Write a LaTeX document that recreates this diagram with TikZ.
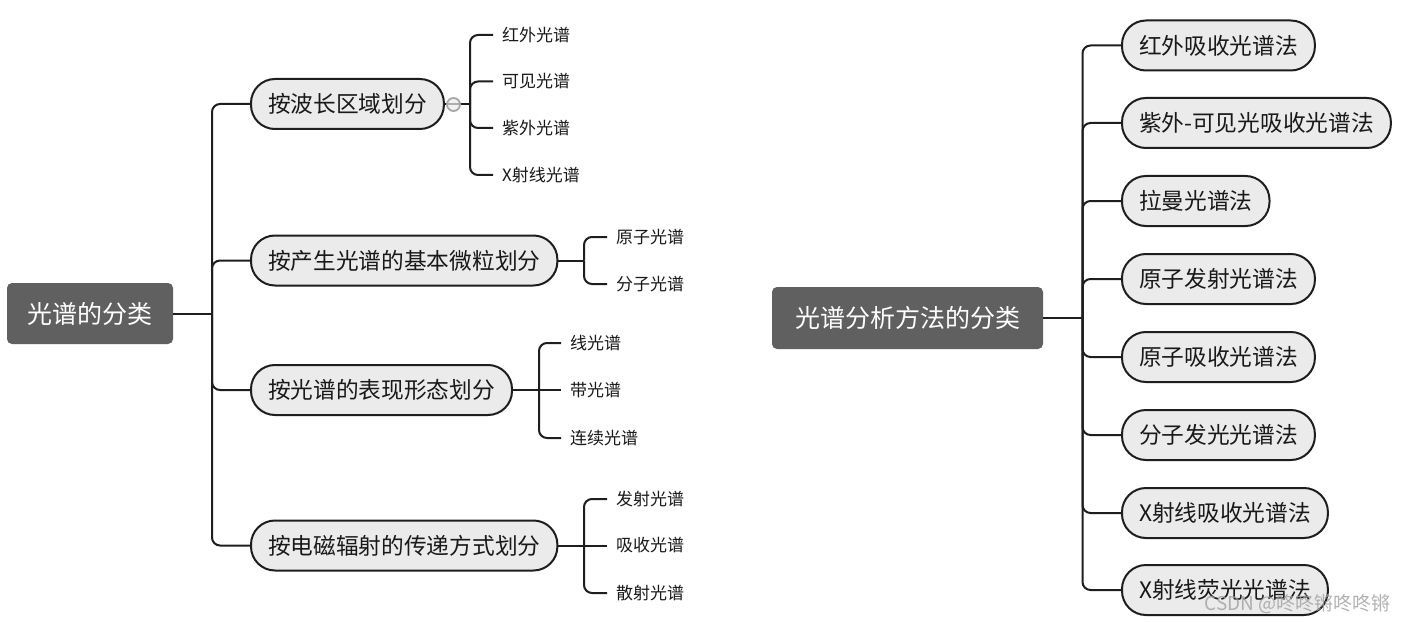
\documentclass[tikz,border=0pt]{standalone}
\usepackage{fontspec}
\newfontfamily\cjk{Noto Sans CJK SC}
\definecolor{rootgray}{HTML}{606060}
\definecolor{pillgray}{HTML}{EBEBEB}
\definecolor{linecol}{HTML}{1E1E1E}
\begin{document}
\begin{tikzpicture}[x=1pt,y=-1pt,
  conn/.style={line width=2pt,draw=linecol,rounded corners=8pt},
  rootbox/.style={fill=rootgray,draw=none,rounded corners=5pt,text=white,font=\cjk\fontsize{25}{30}\selectfont,inner sep=0pt},
  pill/.style={draw=linecol,line width=2pt,fill=pillgray,rounded corners=24pt,minimum height=50pt,inner xsep=17pt,inner ysep=0pt,font=\cjk\fontsize{22.7}{27}\selectfont,anchor=west,text=black!90},
  leaf/.style={font=\cjk\fontsize{17}{20}\selectfont,inner xsep=9pt,inner ysep=0pt,anchor=west,text=black!90},
  knob/.style={circle,draw=gray!70,line width=1.8pt,fill=gray!15,fill opacity=0.7,minimum size=13pt,inner sep=0pt},
  wmark/.style={font=\cjk\fontsize{19}{22}\selectfont,text=gray!75,text opacity=0.8,anchor=east,inner sep=0pt}
]
\fill[white] (0,0) rectangle (1406,623);
\useasboundingbox (0,0) rectangle (1406,623);

% ---------- left tree ----------
\node[rootbox,minimum width=166pt,minimum height=61pt] (L) at (90,313.5) {光谱的分类};

\node[pill] (a1) at (250,104) {按波长区域划分};
\node[pill] (a2) at (250,260.5) {按产生光谱的基本微粒划分};
\node[pill] (a3) at (250,390) {按光谱的表现形态划分};
\node[pill] (a4) at (250,545.5) {按电磁辐射的传递方式划分};

\coordinate (lt) at (212,313.5);
\draw[conn] (L.east) -- (lt);
\foreach \n in {a1,a2,a3,a4} \draw[conn] (lt) |- (\n.west);

% group 1
\node[leaf] (b1) at (493,35) {红外光谱};
\node[leaf] (b2) at (493,81.5) {可见光谱};
\node[leaf] (b3) at (493,128) {紫外光谱};
\node[leaf] (b4) at (493,175) {X射线光谱};
\coordinate (g1) at (470,104);
\draw[conn] (a1.east) -- (g1);
\foreach \n in {b1,b2,b3,b4} \draw[conn] (g1) |- (\n.west);
\node[knob] (k1) at (453.5,104.5) {};

% group 2
\node[leaf] (c1) at (607,237) {原子光谱};
\node[leaf] (c2) at (607,284) {分子光谱};
\coordinate (g2) at (584,260.5);
\draw[conn] (a2.east) -- (g2);
\foreach \n in {c1,c2} \draw[conn] (g2) |- (\n.west);

% group 3
\node[leaf] (d1) at (561,343) {线光谱};
\node[leaf] (d2) at (561,390) {带光谱};
\node[leaf] (d3) at (561,438) {连续光谱};
\coordinate (g3) at (539,390);
\draw[conn] (a3.east) -- (d2.west);
\foreach \n in {d1,d3} \draw[conn] (g3) |- (\n.west);

% group 4
\node[leaf] (e1) at (607,499) {发射光谱};
\node[leaf] (e2) at (607,545.5) {吸收光谱};
\node[leaf] (e3) at (607,593) {散射光谱};
\coordinate (g4) at (584,545.5);
\draw[conn] (a4.east) -- (e2.west);
\foreach \n in {e1,e3} \draw[conn] (g4) |- (\n.west);

% ---------- right tree ----------
\node[rootbox,minimum width=271pt,minimum height=62pt] (R) at (907.5,318) {光谱分析方法的分类};

\node[pill] (r1) at (1121,45.5) {红外吸收光谱法};
\node[pill] (r2) at (1121,123) {紫外-可见光吸收光谱法};
\node[pill] (r3) at (1121,201) {拉曼光谱法};
\node[pill] (r4) at (1121,279) {原子发射光谱法};
\node[pill] (r5) at (1121,357) {原子吸收光谱法};
\node[pill] (r6) at (1121,435) {分子发光光谱法};
\node[pill] (r7) at (1121,513) {X射线吸收光谱法};
\node[pill] (r8) at (1121,590) {X射线荧光光谱法};

\coordinate (rt) at (1082.5,318);
\draw[conn] (R.east) -- (rt);
\foreach \n in {r1,r2,r3,r4,r5,r6,r7,r8} \draw[conn] (rt) |- (\n.west);

% watermark
\node[wmark] (wm) at (1391,604) {CSDN @咚咚锵咚咚锵};
\end{tikzpicture}
\end{document}
